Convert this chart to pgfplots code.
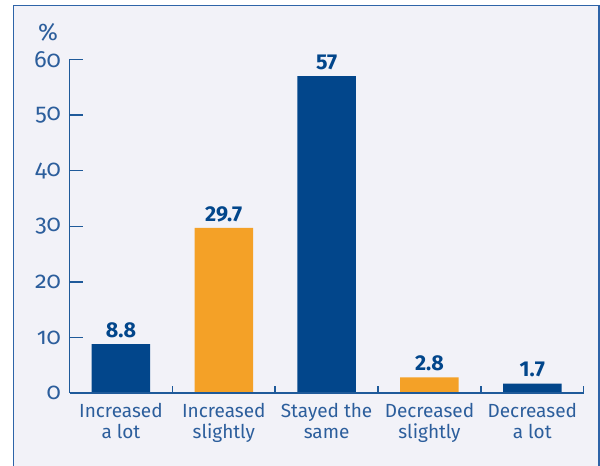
\documentclass[border=0pt]{standalone}
\usepackage{pgfplots}
\pgfplotsset{compat=1.18}
\usepackage{fontspec}
\setmainfont{Fira Sans}
\newfontfamily\oldnum[Numbers=OldStyle]{Fira Sans}
\definecolor{barblue}{HTML}{02468B}
\definecolor{barorange}{HTML}{F4A127}
\definecolor{axblue}{HTML}{1F5A9A}
\definecolor{txtblue}{HTML}{2C5E9C}
\definecolor{framecol}{HTML}{2E64A8}
\definecolor{bgcol}{HTML}{F2F2F8}
\begin{document}
\begin{tikzpicture}[x=1pt,y=1pt]
\useasboundingbox (0,0) rectangle (600,466);
\draw[framecol, line width=1.5pt, fill=bgcol] (13.5,-5) rectangle (599,460.5);
\begin{axis}[
  at={(69.5pt,73pt)}, anchor=south west,
  scale only axis, width=514.2pt, height=333.5pt,
  xmin=-0.5, xmax=4.5, ymin=0, ymax=60,
  axis lines*=left,
  axis line style={axblue, line width=1.6pt},
  axis on top,
  /pgf/number format/assume math mode=true,
  tick align=inside,
  major tick length=13pt,
  tick style={axblue, line width=1.4pt},
  ytick={0,10,20,30,40,50,60},
  yticklabels={\mbox{\oldnum 0},\mbox{\oldnum 10},\mbox{\oldnum 20},\mbox{\oldnum 30},\mbox{\oldnum 40},\mbox{\oldnum 50},\mbox{\oldnum 60}},
  yticklabel style={font=\fontsize{23.5}{23.5}\selectfont, text=txtblue, xshift=-5pt},
  xtick={0.5,1.5,2.5,3.5,4.5},
  xticklabels={},
  xtick style={/pgfplots/major tick length=7pt},
  extra x ticks={0,1,2,3,4},
  extra x tick labels={Increased\\a lot, Increased\\slightly, Stayed the\\same, Decreased\\slightly, Decreased\\a lot},
  extra x tick style={major tick length=0pt, tick style={draw=none}},
  xticklabel style={align=center, font=\fontsize{19}{20.5}\selectfont, text=txtblue, yshift=-7pt},
  ylabel={\%},
  every axis y label/.style={at={(axis description cs:0,1)}, anchor=center, xshift=-21.5pt, yshift=27.5pt, font=\fontsize{24}{24}\selectfont, text=txtblue},
  nodes near coords,
  nodes near coords style={font=\bfseries\fontsize{21.5}{21.5}\selectfont, text=barblue, inner sep=0pt, yshift=6pt, /pgf/number format/assume math mode=true},
]
\addplot[ybar, bar width=58.5pt, bar shift=0pt, fill=barblue, draw=none] coordinates {(0,8.8) (2,57) (4,1.7)};
\addplot[ybar, bar width=58.5pt, bar shift=0pt, fill=barorange, draw=none] coordinates {(1,29.7) (3,2.8)};
\end{axis}
\end{tikzpicture}
\end{document}
